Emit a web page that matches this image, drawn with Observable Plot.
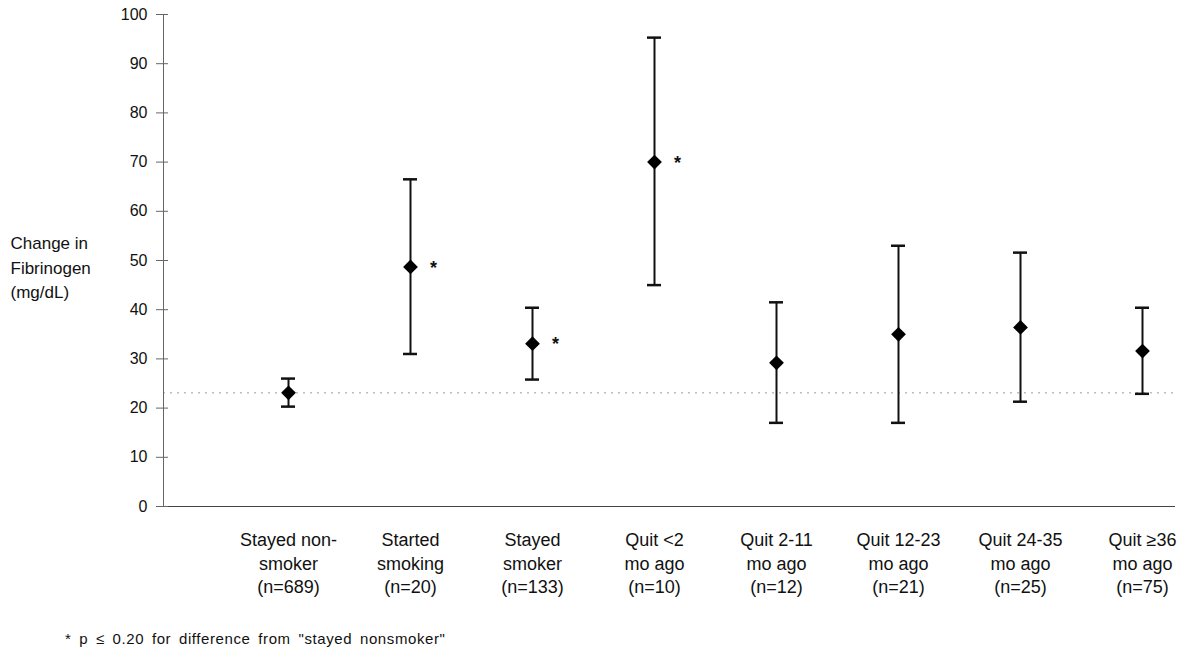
<!DOCTYPE html>
<html>
<head>
<meta charset="utf-8">
<script src="https://cdn.jsdelivr.net/npm/d3@7"></script>
<script src="https://cdn.jsdelivr.net/npm/@observablehq/plot@0.6"></script>
<style>
  html, body { margin: 0; padding: 0; background: #fff; }
  #chart { width: 1186px; }
  #note { font-family: "Liberation Sans", Arial, sans-serif; font-size: 15px; letter-spacing: 0.6px; word-spacing: 3px; color: #111; margin: 11px 0 0 65px; line-height: 16px; }
</style>
</head>
<body>
<div id="chart"></div>
<div id="note">* p ≤ 0.20 for difference from "stayed nonsmoker"</div>
<script>
const categories = ["Stayed non-smoker", "Started smoking", "Stayed smoker", "Quit <2 mo ago", "Quit 2-11 mo ago", "Quit 12-23 mo ago", "Quit 24-35 mo ago", "Quit ≥36 mo ago"];
const tickLabels = ["Stayed non-\nsmoker\n(n=689)", "Started\nsmoking\n(n=20)", "Stayed\nsmoker\n(n=133)", "Quit <2\nmo ago\n(n=10)", "Quit 2-11\nmo ago\n(n=12)", "Quit 12-23\nmo ago\n(n=21)", "Quit 24-35\nmo ago\n(n=25)", "Quit ≥36\nmo ago\n(n=75)"];
const means = [23.1, 48.7, 33.1, 70.0, 29.2, 35.0, 36.4, 31.6];
const lower = [20.3, 31.0, 25.8, 45.0, 17.0, 17.0, 21.3, 22.9];
const upper = [26.0, 66.5, 40.4, 95.3, 41.5, 53.0, 51.6, 40.4];
const significant = [false, true, true, true, false, false, false, false];
const referenceValue = [23.1];
const yTicks = [0, 10, 20, 30, 40, 50, 60, 70, 80, 90, 100];

const data = categories.map((c, i) => ({cat: c, label: tickLabels[i], mean: means[i], lo: lower[i], hi: upper[i], sig: significant[i]}));
const font = '"Liberation Sans", Arial, sans-serif';

const chart = Plot.plot({
  width: 1186,
  height: 620,
  marginLeft: 163,
  marginRight: 11,
  marginTop: 14,
  marginBottom: 114,
  style: {fontFamily: font, background: "#fff", color: "#111"},
  x: {type: "band", domain: categories, range: [280, 1150], paddingInner: 0.885, paddingOuter: 0, axis: null},
  y: {domain: [0, 100], axis: null},
  marks: [
    Plot.ruleY(referenceValue, {stroke: "#9a9a9a", strokeWidth: 1, strokeDasharray: "2,5"}),
    Plot.frame({anchor: "left", stroke: "#666", strokeWidth: 1}),
    Plot.ruleY([0], {stroke: "#444", strokeWidth: 1.2}),
    Plot.axisY({ticks: yTicks, tickSize: 12, dx: 5, tickFormat: () => "", stroke: "#666", label: null}),
    Plot.axisY({ticks: yTicks, tickSize: 0, tickPadding: 16, fontSize: 16, label: null, fill: "#111", style: {letterSpacing: "1.7px"}}),
    Plot.ruleX(data, {x: "cat", y1: "lo", y2: "hi", stroke: "#111", strokeWidth: 2}),
    Plot.tickY(data, {x: "cat", y: "lo", stroke: "#111", strokeWidth: 2.5}),
    Plot.tickY(data, {x: "cat", y: "hi", stroke: "#111", strokeWidth: 2.5}),
    Plot.dot(data, {x: "cat", y: "mean", symbol: "square", rotate: 45, r: 5.9, fill: "#000", stroke: "none"}),
    Plot.text(data.filter(d => d.sig), {x: "cat", y: "mean", text: () => "*", dx: 23, dy: 1, fontSize: 18, fontWeight: "bold", fill: "#111"}),
    Plot.text(data, {x: "cat", text: "label", frameAnchor: "bottom", lineAnchor: "top", dy: 23, fontSize: 18, lineHeight: 1.3, fill: "#111", style: {letterSpacing: "0.8px"}}),
    Plot.text(["Change in\nFibrinogen\n(mg/dL)"], {frameAnchor: "left", textAnchor: "start", dx: -153, dy: 5, fontSize: 17, lineHeight: 1.47, fill: "#111", style: {letterSpacing: "0.3px"}})
  ]
});
document.getElementById("chart").appendChild(chart);
</script>
</body>
</html>
